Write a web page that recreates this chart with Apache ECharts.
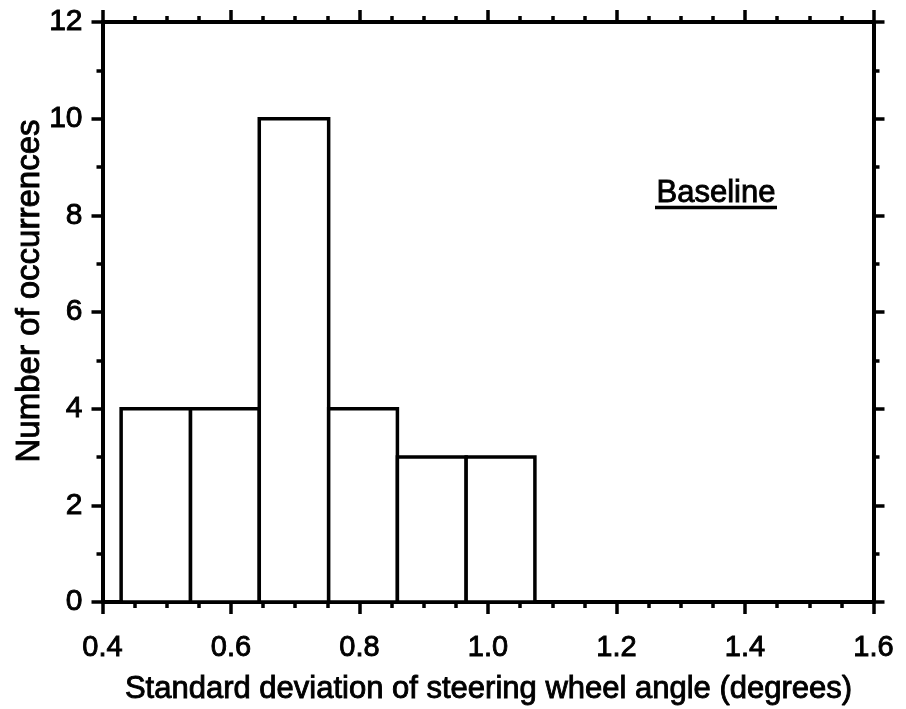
<!DOCTYPE html>
<html>
<head>
<meta charset="utf-8">
<title>Baseline histogram</title>
<script src="https://cdn.jsdelivr.net/npm/echarts@6/dist/echarts.min.js"></script>
<style>
  html, body { margin: 0; padding: 0; background: #fff; }
  #chart { width: 906px; height: 709px; }
</style>
</head>
<body>
<div id="chart"></div>
<script>
// Histogram bins (degrees) and counts per bin
const binLeft  = [0.429, 0.537, 0.644, 0.752, 0.859, 0.966];
const binRight = [0.537, 0.644, 0.752, 0.859, 0.966, 1.073];
const counts   = [4, 4, 10, 4, 3, 3];

const xTitle = 'Standard deviation of steering wheel angle (degrees)';
const yTitle = 'Number of occurrences';
const panelLabel = 'Baseline';

const FONT = '"Liberation Sans", Arial, Helvetica, sans-serif';
const INK = '#000';
// thin outline on glyphs gives the heavier print-style lettering
const TEXT_WEIGHT = 0.9;

const bins = binLeft.map((l, i) => [l, binRight[i], counts[i]]);

const chart = echarts.init(document.getElementById('chart'), null, { renderer: 'canvas' });

function xAxisCfg(pos, showLabels) {
  return {
    type: 'value', position: pos, min: 0.4, max: 1.6, interval: 0.2,
    axisLine: { show: true, onZero: false, lineStyle: { color: INK, width: 4 } },
    axisTick: { show: true, inside: false, length: 12, lineStyle: { color: INK, width: 3.5 } },
    minorTick: { show: true, splitNumber: 4, length: 6, lineStyle: { color: INK, width: 3.5 } },
    splitLine: { show: false },
    axisLabel: {
      show: showLabels, margin: 31, color: INK, fontFamily: FONT, fontSize: 29,
      textBorderColor: INK, textBorderWidth: TEXT_WEIGHT,
      formatter: v => v.toFixed(1)
    }
  };
}

function yAxisCfg(pos, showLabels) {
  return {
    type: 'value', position: pos, min: 0, max: 12, interval: 2,
    axisLine: { show: true, onZero: false, lineStyle: { color: INK, width: 4 } },
    axisTick: { show: true, inside: false, length: 11, lineStyle: { color: INK, width: 3.5 } },
    minorTick: { show: true, splitNumber: 2, length: 6, lineStyle: { color: INK, width: 3.5 } },
    splitLine: { show: false },
    axisLabel: {
      show: showLabels, margin: 20, color: INK, fontFamily: FONT, fontSize: 30,
      textBorderColor: INK, textBorderWidth: TEXT_WEIGHT
    }
  };
}

function titleStyle(text, size) {
  return {
    text: text, font: size + 'px ' + FONT, fill: INK,
    stroke: INK, lineWidth: TEXT_WEIGHT,
    align: 'center', verticalAlign: 'middle'
  };
}

chart.setOption({
  animation: false,
  backgroundColor: '#fff',
  grid: { left: 102.5, right: 32.5, top: 22, bottom: 107, containLabel: false },
  xAxis: [xAxisCfg('bottom', true), xAxisCfg('top', false)],
  yAxis: [yAxisCfg('left', true), yAxisCfg('right', false)],
  series: [{
    type: 'custom',
    xAxisIndex: 0,
    yAxisIndex: 0,
    data: bins,
    renderItem: function (params, api) {
      const p0 = api.coord([api.value(0), api.value(2)]);
      const p1 = api.coord([api.value(1), 0]);
      return {
        type: 'rect',
        shape: { x: p0[0], y: p0[1], width: p1[0] - p0[0], height: p1[1] - p0[1] },
        style: { fill: '#fff', stroke: INK, lineWidth: 3.5 }
      };
    }
  }],
  graphic: [
    { type: 'text', x: 30, y: 291, rotation: Math.PI / 2, style: titleStyle(yTitle, 33) },
    { type: 'text', x: 488.5, y: 689, style: titleStyle(xTitle, 31) },
    { type: 'text', x: 716, y: 193, style: titleStyle(panelLabel, 31) },
    {
      type: 'line', shape: { x1: 655, y1: 207.5, x2: 777, y2: 207.5 },
      style: { stroke: INK, lineWidth: 3.5 }
    }
  ]
});
</script>
</body>
</html>
